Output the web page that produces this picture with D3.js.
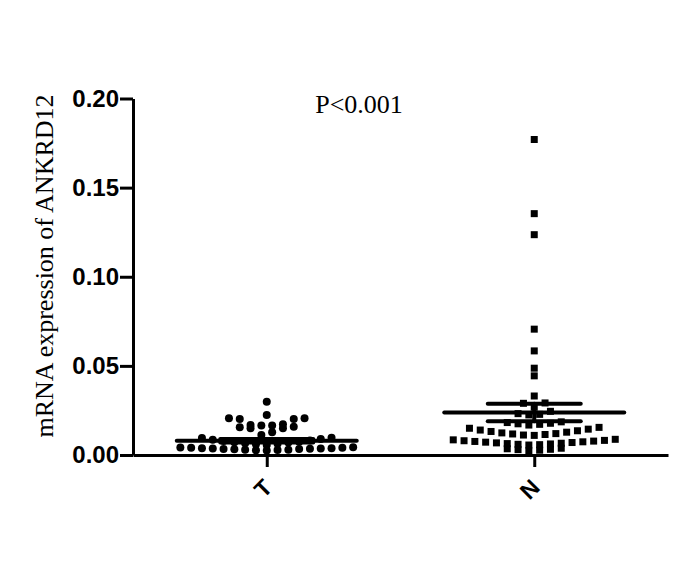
<!DOCTYPE html>
<html>
<head>
<meta charset="utf-8">
<script src="https://cdn.jsdelivr.net/npm/d3@7"></script>
<style>
  html, body { margin: 0; padding: 0; background: #fff; }
  svg { display: block; }
</style>
</head>
<body>
<div id="chart"></div>
<script>
// ---------- data ----------
const categories = ["T", "N"];

const valuesT = [
  0.0025, 0.0027, 0.0028, 0.0030, 0.0030, 0.0032, 0.0033, 0.0034, 0.0035,
  0.0036, 0.0037, 0.0038, 0.0038, 0.0040, 0.0041, 0.0042, 0.0044,
  0.0056, 0.0060, 0.0063, 0.0066, 0.0070, 0.0072, 0.0075, 0.0078, 0.0082,
  0.0086, 0.0090, 0.0096, 0.0097,
  0.0112, 0.0128, 0.0150, 0.0150, 0.0155, 0.0158,
  0.0165, 0.0165, 0.0169, 0.0172, 0.0202, 0.0202, 0.0206, 0.0206,
  0.0225,
  0.0299
];

const valuesN = [
  0.0024, 0.0027, 0.0030, 0.0032, 0.0035, 0.0038,
  0.0056, 0.0058, 0.0060, 0.0062, 0.0064, 0.0066, 0.0068, 0.0070,
  0.0072, 0.0074, 0.0076, 0.0078, 0.0080, 0.0082, 0.0085, 0.0088,
  0.0110, 0.0112, 0.0115, 0.0118, 0.0120, 0.0124, 0.0128, 0.0132,
  0.0136, 0.0140, 0.0145, 0.0150, 0.0155,
  0.0168, 0.0172, 0.0175, 0.0178, 0.0182, 0.0186,
  0.0225, 0.0228, 0.0232, 0.0245,
  0.0268, 0.0290, 0.0292,
  0.0331, 0.0444, 0.0487, 0.0584, 0.0706, 0.1236, 0.1354, 0.1770
];

const groupMeans = [0.0080, 0.0238];
const groupSEMs  = [0.0010, 0.0049];

const yTickValues = [0.00, 0.05, 0.10, 0.15, 0.20];
const yTitle = "mRNA expression of ANKRD12";
const pText = "P<0.001";

// ---------- layout ----------
const W = 685, H = 571;
const plotLeft = 133, plotRight = 668, plotTop = 98.5, plotBottom = 455;

const svg = d3.select("#chart").append("svg")
  .attr("width", W).attr("height", H)
  .attr("viewBox", `0 0 ${W} ${H}`);

const x = d3.scalePoint().domain(categories).range([plotLeft, plotRight]).padding(0.5);
const y = d3.scaleLinear().domain([0, 0.20]).range([plotBottom, plotTop]);

const dotStep = 10.8;      // horizontal spacing between points in a row
const rowH = 9.5;          // pixel height of a swarm row
const meanHalf = 90, semHalf = 46.5;

// simple GraphPad-style swarm: bin by pixel height, spread each row around centre,
// lowest values in the middle, higher values outward
function swarm(values, cx) {
  const rows = d3.groups(values.map(v => ({ v })), d => Math.floor((y(0) - y(d.v)) / rowH));
  const out = [];
  rows.forEach(([, pts]) => {
    pts.sort((a, b) => a.v - b.v);
    const n = pts.length;
    const slots = d3.range(n).map(i => (i - (n - 1) / 2) * dotStep);
    slots.sort((a, b) => Math.abs(a) - Math.abs(b) || a - b);
    pts.forEach((p, i) => out.push({ v: p.v, x: cx + slots[i], y: y(p.v) }));
  });
  return out;
}

const ptsT = swarm(valuesT, x("T"));
const ptsN = swarm(valuesN, x("N"));

// points
svg.append("g").selectAll("circle").data(ptsT).join("circle")
  .attr("cx", d => d.x).attr("cy", d => d.y).attr("r", 4)
  .attr("fill", "#000");

const sq = 7;
svg.append("g").selectAll("rect").data(ptsN).join("rect")
  .attr("x", d => d.x - sq / 2).attr("y", d => d.y - sq / 2)
  .attr("width", sq).attr("height", sq)
  .attr("fill", "#000");

// mean and SEM
const stats = categories.map((c, i) => ({ c, m: groupMeans[i], s: groupSEMs[i] }));
const gStats = svg.append("g")
  .attr("stroke", "#000").attr("stroke-width", 4).attr("stroke-linecap", "round");
stats.forEach(d => {
  const cx = x(d.c);
  gStats.append("line").attr("x1", cx - meanHalf).attr("x2", cx + meanHalf)
    .attr("y1", y(d.m)).attr("y2", y(d.m));
  gStats.append("line").attr("x1", cx - semHalf).attr("x2", cx + semHalf)
    .attr("y1", y(d.m + d.s)).attr("y2", y(d.m + d.s));
  gStats.append("line").attr("x1", cx - semHalf).attr("x2", cx + semHalf)
    .attr("y1", y(d.m - d.s)).attr("y2", y(d.m - d.s));
  gStats.append("line").attr("x1", cx).attr("x2", cx)
    .attr("y1", y(d.m + d.s)).attr("y2", y(d.m - d.s));
});

// y axis
const yAxis = d3.axisLeft(y).tickValues(yTickValues).tickFormat(d3.format(".2f"))
  .tickSize(13).tickSizeOuter(0).tickPadding(1);
const gy = svg.append("g").attr("transform", `translate(${plotLeft},0)`).call(yAxis);
gy.select(".domain").attr("stroke", "#000").attr("stroke-width", 3);
gy.selectAll(".tick line").attr("stroke", "#000").attr("stroke-width", 3);
gy.selectAll(".tick text")
  .attr("fill", "#000")
  .style("font-family", "'Liberation Sans', Arial, sans-serif")
  .style("font-weight", "bold")
  .style("font-size", "24px");

// x axis
const xAxis = d3.axisBottom(x).tickSize(12).tickSizeOuter(0).tickFormat("");
const gx = svg.append("g").attr("transform", `translate(0,${plotBottom})`).call(xAxis);
gx.select(".domain").attr("stroke", "#000").attr("stroke-width", 3);
gx.selectAll(".tick line").attr("stroke", "#000").attr("stroke-width", 3);

svg.append("g").selectAll("text").data(categories).join("text")
  .attr("transform", d => `translate(${x(d) + 7},${plotBottom + 34}) rotate(-45)`)
  .attr("text-anchor", "end")
  .style("font-family", "'Liberation Sans', Arial, sans-serif")
  .style("font-weight", "bold")
  .style("font-size", "23px")
  .attr("fill", "#000")
  .text(d => d);

// y title
svg.append("text")
  .attr("transform", `translate(53,266) rotate(-90)`)
  .attr("text-anchor", "middle")
  .style("font-family", "'Liberation Serif', 'Times New Roman', serif")
  .style("font-size", "26px")
  .attr("fill", "#000")
  .text(yTitle);

// p value
svg.append("text")
  .attr("x", 359).attr("y", 113)
  .attr("text-anchor", "middle")
  .style("font-family", "'Liberation Serif', 'Times New Roman', serif")
  .style("font-size", "26px")
  .attr("fill", "#000")
  .text(pText);
</script>
</body>
</html>
